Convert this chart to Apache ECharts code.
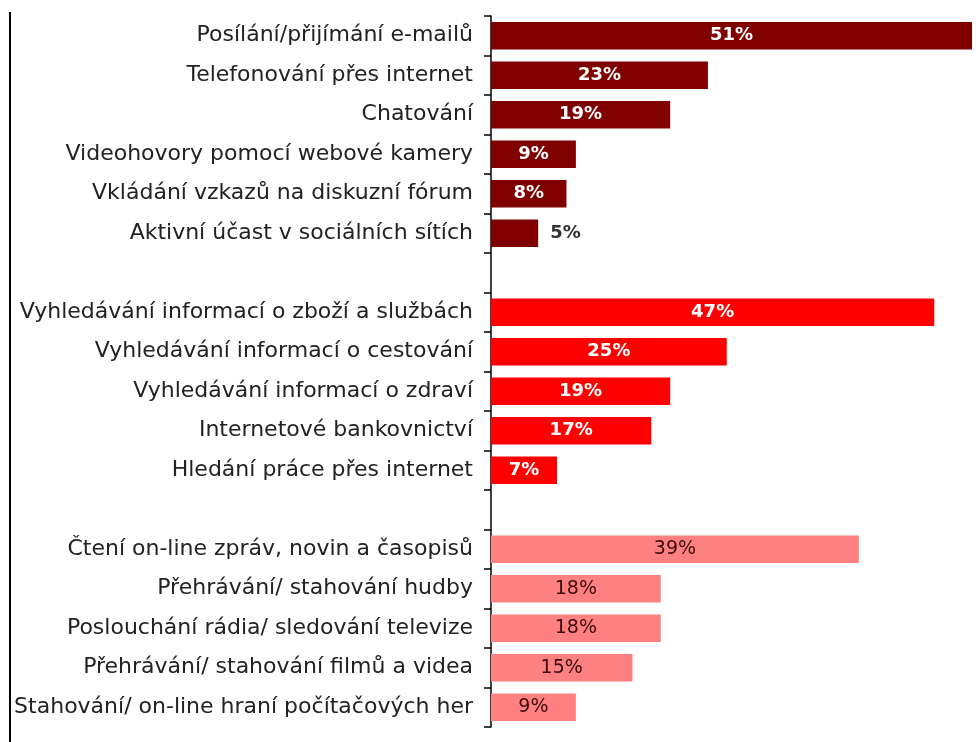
<!DOCTYPE html>
<html>
<head>
<meta charset="utf-8">
<script src="https://cdn.jsdelivr.net/npm/echarts@6/dist/echarts.min.js"></script>
<style>
  html, body { margin: 0; padding: 0; background: #ffffff; }
  #chart { width: 980px; height: 742px; }
</style>
</head>
<body>
<div id="chart"></div>
<script>
// Internet activities, share of respondents (%), in three groups separated by blank rows
const categories = [
  'Posílání/přijímání e-mailů',
  'Telefonování přes internet',
  'Chatování',
  'Videohovory pomocí webové kamery',
  'Vkládání vzkazů na diskuzní fórum',
  'Aktivní účast v sociálních sítích',
  ' ',
  'Vyhledávání informací o zboží a službách',
  'Vyhledávání informací o cestování',
  'Vyhledávání informací o zdraví',
  'Internetové bankovnictví',
  'Hledání práce přes internet',
  '  ',
  'Čtení on-line zpráv, novin a časopisů',
  'Přehrávání/ stahování hudby',
  'Poslouchání rádia/ sledování televize',
  'Přehrávání/ stahování filmů a videa',
  'Stahování/ on-line hraní počítačových her'
];

const communication = [51, 23, 19, 9, 8, 5];
const information   = [47, 25, 19, 17, 7];
const entertainment = [39, 18, 18, 15, 9];

// group -> starting row in the category list
const groups = [
  { values: communication, start: 0,  color: '#800000', text: '#ffffff', weight: 'bold' },
  { values: information,   start: 7,  color: '#ff0000', text: '#ffffff', weight: 'bold' },
  { values: entertainment, start: 13, color: '#ff8080', text: '#3a0c0c', weight: 'normal' }
];

const FONT = '"DejaVu Sans", Verdana, sans-serif';

const series = groups.map(g => {
  const data = categories.map(() => null);
  g.values.forEach((v, i) => {
    const item = { value: v };
    if (v < 6) {
      item.label = { position: 'right', color: '#333333', distance: 12 };
    }
    data[g.start + i] = item;
  });
  return {
    type: 'bar',
    stack: 'all',
    barCategoryGap: '30%',
    data: data,
    itemStyle: { color: g.color },
    label: {
      show: true,
      position: 'inside',
      formatter: p => p.value + '%',
      color: g.text,
      fontFamily: FONT,
      fontSize: g.weight === 'bold' ? 18 : 19,
      fontWeight: g.weight
    }
  };
});

const chart = echarts.init(document.getElementById('chart'));
chart.setOption({
  animation: false,
  backgroundColor: '#ffffff',
  grid: { left: 491, right: 8, top: 16, bottom: 15 },
  xAxis: { type: 'value', min: 0, max: 51, show: false },
  yAxis: {
    type: 'category',
    inverse: true,
    data: categories,
    axisLine: { show: true, lineStyle: { color: '#000000', width: 1.5 } },
    axisTick: { show: true, length: 7, lineStyle: { color: '#000000', width: 1.5 } },
    axisLabel: {
      margin: 18,
      color: '#222222',
      fontFamily: FONT,
      fontSize: 22
    }
  },
  series: series,
  graphic: [{
    type: 'line',
    shape: { x1: 10, y1: 12, x2: 10, y2: 742 },
    style: { stroke: '#000000', lineWidth: 2 }
  }]
});
</script>
</body>
</html>
